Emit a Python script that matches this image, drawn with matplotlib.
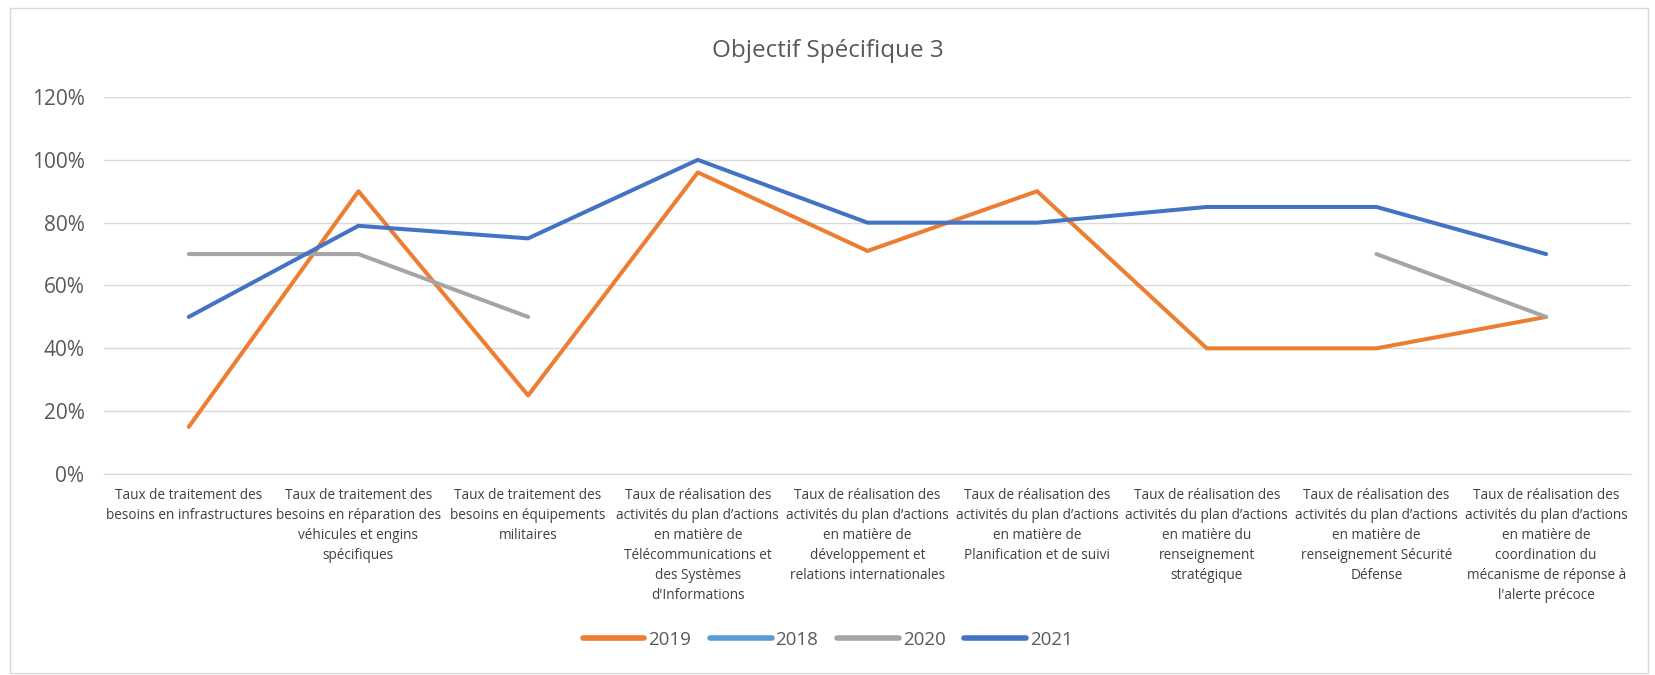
import numpy as np
import matplotlib.pyplot as plt
import matplotlib.patches as mpatches

# ====== DONNÉES ======
categories = [
    "Taux de traitement des\nbesoins en infrastructures",
    "Taux de traitement des\nbesoins en réparation des\nvéhicules et engins\nspécifiques",
    "Taux de traitement des\nbesoins en équipements\nmilitaires",
    "Taux de réalisation des\nactivités du plan d’actions\nen matière de\nTélécommunications et\ndes Systèmes\nd'Informations",
    "Taux de réalisation des\nactivités du plan d’actions\nen matière de\ndéveloppement et\nrelations internationales",
    "Taux de réalisation des\nactivités du plan d’actions\nen matière de\nPlanification et de suivi",
    "Taux de réalisation des\nactivités du plan d’actions\nen matière du\nrenseignement\nstratégique",
    "Taux de réalisation des\nactivités du plan d’actions\nen matière de\nrenseignement Sécurité\nDéfense",
    "Taux de réalisation des\nactivités du plan d’actions\nen matière de\ncoordination du\nmécanisme de réponse à\nl'alerte précoce",
]
nan = np.nan
v2019 = [0.15, 0.90, 0.25, 0.96, 0.71, 0.90, 0.40, 0.40, 0.50]
v2018 = [nan] * 9
v2020 = [0.70, 0.70, 0.50, nan, nan, nan, nan, 0.70, 0.50]
v2021 = [0.50, 0.79, 0.75, 1.00, 0.80, 0.80, 0.85, 0.85, 0.70]

series = [
    ("2019", v2019, "#ED7D31"),
    ("2018", v2018, "#5B9BD5"),
    ("2020", v2020, "#A5A5A5"),
    ("2021", v2021, "#4472C4"),
]

plt.rcParams['font.family'] = ['Open Sans', 'DejaVu Sans']

fig = plt.figure(figsize=(16.55, 6.75), dpi=100)
ax = fig.add_axes([0.0628, 0.2978, 0.9227, 0.5585])

x = np.arange(len(categories))
for label, vals, color in series:
    ax.plot(x, vals, color=color, lw=2.9, label=label, solid_capstyle='round',
            solid_joinstyle='round')

ax.set_xlim(-0.5, len(categories) - 0.5)
ax.set_ylim(0, 1.2)
ax.set_yticks(np.arange(0, 1.21, 0.2))
ax.set_yticklabels([f"{int(round(t * 100))}%" for t in np.arange(0, 1.21, 0.2)],
                   fontsize=15, color="#595959")
ax.yaxis.grid(True, color="#D9D9D9", lw=1)
ax.set_axisbelow(True)
ax.tick_params(axis='y', length=0, pad=14)
ax.tick_params(axis='x', length=0, pad=10)
for s in ["top", "right", "left"]:
    ax.spines[s].set_visible(False)
ax.spines["bottom"].set_color("#D9D9D9")

ax.set_xticks(x)
ax.set_xticklabels(categories, fontsize=9.8, color="#404040", linespacing=1.45,
                   va='top')

fig.text(0.5, 0.925, "Objectif Spécifique 3", ha='center', va='center',
         fontsize=17.5, color="#595959")

handles = [plt.Line2D([], [], color=c, lw=4, solid_capstyle='round') for _, _, c in series]
fig.legend(handles, [s[0] for s in series], loc='center', bbox_to_anchor=(0.5, 0.052),
           ncol=4, frameon=False, fontsize=13.5, handlelength=3.3, columnspacing=1.0,
           handletextpad=0.2, labelcolor="#595959")

# cadre
border = mpatches.Rectangle((0.006, 0.003), 0.99, 0.985, transform=fig.transFigure,
                            fill=False, edgecolor="#D9D9D9", lw=1)
fig.patches.append(border)

fig.savefig("out.png", dpi=100)
plt.close()
